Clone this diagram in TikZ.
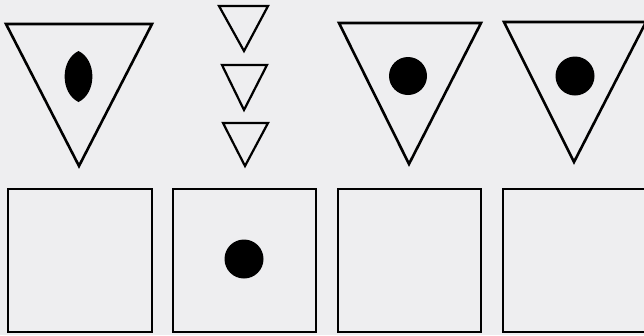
\documentclass[tikz,border=0pt]{standalone}
\definecolor{bg}{RGB}{238,238,240}
\tikzset{
  shape line/.style={draw=black, line width=2.6pt, line join=miter},
  thin line/.style={draw=black, line width=2.2pt, line join=miter},
  blob/.style={fill=black}
}
\begin{document}
\begin{tikzpicture}[x=1pt,y=-1pt]
\fill[bg] (0,0) rectangle (644,335);
\useasboundingbox (0,0) rectangle (644,335);
% big triangles
\draw[shape line] (6,24) -- (152,24) -- (79,166) -- cycle;
\draw[shape line] (339,23) -- (481,23) -- (409,164) -- cycle;
\draw[shape line] (504,22) -- (646,22) -- (574,162) -- cycle;
% small triangles
\draw[thin line] (219,6) -- (268,6) -- (244,51) -- cycle;
\draw[thin line] (222,65) -- (267,65) -- (244,110) -- cycle;
\draw[thin line] (223,123) -- (268,123) -- (245,166) -- cycle;
% contents of triangles
\fill[blob] (78.5,51) .. controls (97,60) and (97,93) .. (78.5,102) .. controls (60,93) and (60,60) .. (78.5,51);
\fill[blob] (408,76) circle (19);
\fill[blob] (575,76) circle (19.5);
% boxes
\draw[shape line] (8,189) rectangle (152,332);
\draw[shape line] (173,189) rectangle (316,332);
\draw[shape line] (338,189) rectangle (481,332);
\draw[shape line] (503,189) rectangle (648,332);
\fill[blob] (244,259) circle (19.5);
\end{tikzpicture}
\end{document}
